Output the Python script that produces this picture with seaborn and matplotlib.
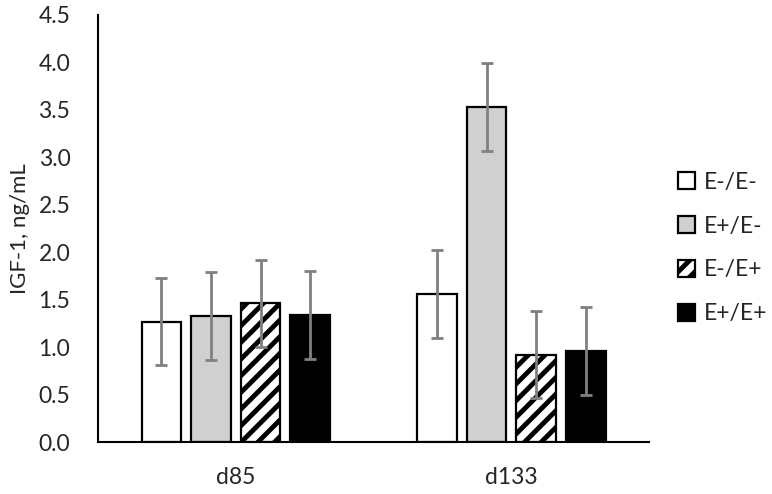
import matplotlib
matplotlib.use("Agg")
import matplotlib.pyplot as plt
from matplotlib.patches import Patch
import seaborn as sns
import pandas as pd
import numpy as np

# values
days = ["d85", "d133"]
groups = ["E-/E-", "E+/E-", "E-/E+", "E+/E+"]
igf_d85 = [1.27, 1.33, 1.46, 1.34]
igf_d133 = [1.56, 3.53, 0.92, 0.96]
sem_d85 = [0.46, 0.46, 0.46, 0.46]
sem_d133 = [0.46, 0.46, 0.46, 0.46]

df = pd.DataFrame({
    "day": np.repeat(days, len(groups)),
    "group": groups * len(days),
    "igf": igf_d85 + igf_d133,
    "err": sem_d85 + sem_d133,
})

sns.set_style("white")
plt.rcParams["font.family"] = ["Lato", "DejaVu Sans"]
plt.rcParams["hatch.linewidth"] = 3.5
fs = 16.5

fig = plt.figure(figsize=(7.72, 4.94), dpi=100)
ax = fig.add_axes([0.127, 0.105, 0.714, 0.865])

face = {"E-/E-": "white", "E+/E-": "#d0d0d0", "E-/E+": "white", "E+/E+": "black"}
sns.barplot(data=df, x="day", y="igf", hue="group", hue_order=groups,
            palette=face, order=days, width=0.72, gap=0.2,
            errorbar=None, edgecolor="black", linewidth=1.6, ax=ax, legend=False)

# bars come out grouped by hue, day inside each group
for i, p in enumerate(ax.patches[:len(df)]):
    g = groups[i // len(days)]
    if g == "E-/E+":
        p.set_hatch("//")
    row = df[(df.group == g) & (df.day == days[i % len(days)])].iloc[0]
    xc = p.get_x() + p.get_width() / 2
    ax.errorbar(xc, row["igf"], yerr=row["err"], color="#808080", lw=2,
                capsize=4, capthick=2, zorder=5)

ticks = np.arange(0, 4.51, 0.5)
ax.set_ylim(0, 4.5)
ax.set_yticks(ticks)
ax.set_yticklabels([f"{v:.1f}" for v in ticks])
ax.set_xlim(-0.5, 1.5)
ax.set_xlabel("")
ax.set_ylabel("IGF-1, ng/mL", fontsize=16)
ax.yaxis.set_label_coords(-0.124, 0.5)
ax.tick_params(axis="y", labelsize=fs, length=0, pad=20)
ax.tick_params(axis="x", labelsize=fs, length=0, pad=18)
for s in ["top", "right"]:
    ax.spines[s].set_visible(False)
for s in ["left", "bottom"]:
    ax.spines[s].set_color("black")
    ax.spines[s].set_linewidth(1.5)

handles = [Patch(facecolor=face[g], edgecolor="black", linewidth=1.6,
                 hatch="//" if g == "E-/E+" else None) for g in groups]
fig.legend(handles, groups, loc="center left", bbox_to_anchor=(0.851, 0.498),
           frameon=False, fontsize=fs, handlelength=0.75, handleheight=0.75,
           handletextpad=0.4, labelspacing=1.0)

fig.savefig("out.png", dpi=100)
